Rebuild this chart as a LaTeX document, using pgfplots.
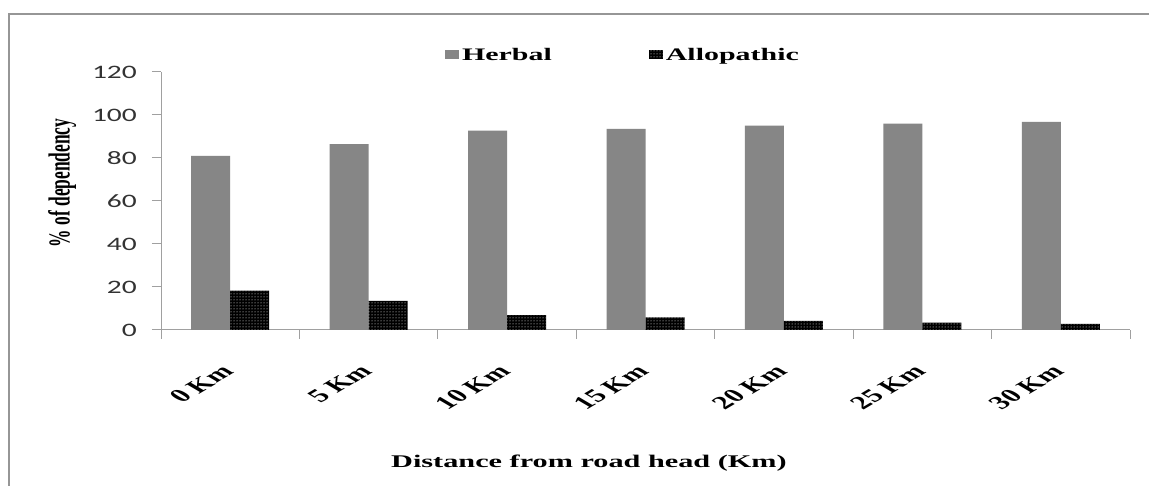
\documentclass[border=0pt]{standalone}
\usepackage{fontspec}
\setmainfont{Liberation Serif}
\newfontfamily\serifX[FakeStretch=1.7]{Liberation Serif}
\newfontfamily\carl{Carlito}
\usepackage{graphicx}
\usepackage{pgfplots}
\pgfplotsset{compat=1.18}
\usetikzlibrary{patterns}
\definecolor{herb}{RGB}{134,134,134}
\definecolor{axgray}{RGB}{160,160,160}
\definecolor{framegray}{RGB}{150,150,150}
\newcommand{\xl}[1]{\scalebox{1.7}[1]{\rotatebox{45}{\fontsize{18.6}{20}\selectfont\bfseries #1}}}
\begin{document}
\begin{tikzpicture}
\useasboundingbox (0,0) rectangle (1149pt,486pt);
\fill[white] (0,0) rectangle (1149pt,486pt);
\draw[line width=1.2pt, framegray] (9pt,0pt) -- (9pt,472pt) -- (1149pt,472pt);
\begin{axis}[
  at={(161pt,156pt)}, anchor=south west,
  scale only axis, width=969pt, height=258pt,
  xmin=-0.5, xmax=6.5, ymin=0, ymax=120,
  ybar=0pt, bar width=39pt,
  axis x line*=bottom, axis y line*=left,
  axis line style={axgray, line width=1pt},
  ytick={0,20,...,120},
  yticklabel={\scalebox{1.55}[1]{\carl\fontsize{19}{20}\selectfont\pgfmathprintnumber{\tick}}},
  xtick={0,...,6},
  xticklabels={\xl{0 Km},\xl{5 Km},\xl{10 Km},\xl{15 Km},\xl{20 Km},\xl{25 Km},\xl{30 Km}},
  minor xtick={-0.5,0.5,...,6.5},
  tick align=outside,
  major tick length=9pt, minor tick length=9pt,
  major x tick style={draw=none},
  minor x tick style={axgray, line width=1pt},
  major y tick style={axgray, line width=1pt},
  /pgf/number format/assume math mode=true,
  yticklabel style={text=black!80, anchor=east, inner sep=0pt, xshift=-15pt},
  xticklabel style={anchor=north east, inner sep=0pt, xshift=5pt, yshift=-25pt},
  xlabel={Distance from road head (Km)},
  xlabel style={font=\serifX\bfseries\fontsize{17.8}{19}\selectfont, at={(axis description cs:0.4417,-0.5155)}, anchor=center},
  ylabel={\scalebox{1}[1.75]{\% of dependency}},
  ylabel style={font=\bfseries\fontsize{17.4}{19}\selectfont, at={(axis description cs:-0.102,0.57)}, anchor=center},
  legend columns=2,
  legend style={at={(axis description cs:0.293,1.066)}, anchor=west, draw=none, fill=none, inner sep=0pt,
    font=\serifX\bfseries\fontsize{17.6}{19}\selectfont,
    nodes={inner sep=3pt},
    /tikz/every even column/.append style={column sep=94pt}},
  legend image code/.code={\fill[#1] (0pt,-4pt) rectangle (14pt,5pt);},
]
\addplot[fill=herb, draw=none] coordinates {(0,81) (1,86.4) (2,92.7) (3,93.6) (4,95) (5,96) (6,96.8)};
\addplot[fill=black, draw=none, postaction={pattern=dots, pattern color=white}] coordinates {(0,18.3) (1,13.6) (2,6.9) (3,5.9) (4,4.3) (5,3.4) (6,2.8)};
\legend{Herbal,Allopathic}
\end{axis}
\end{tikzpicture}
\end{document}
